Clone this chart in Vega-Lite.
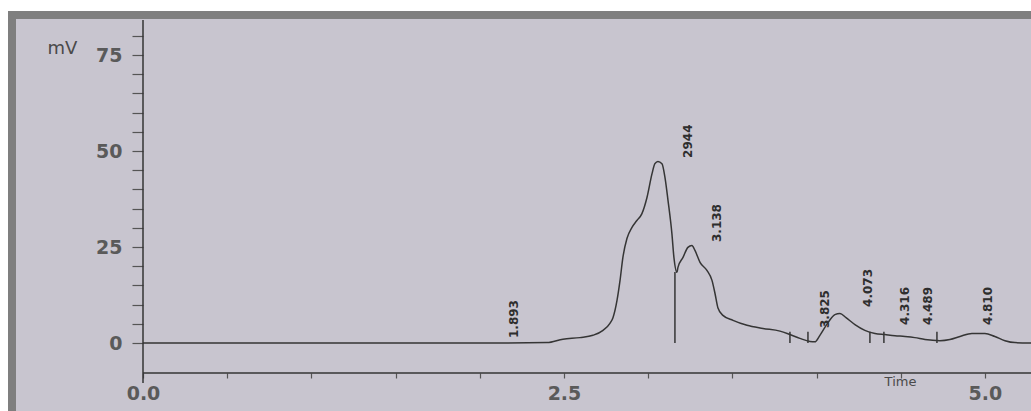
{
  "$schema": "https://vega.github.io/schema/vega-lite/v6.json",
  "width": 1029,
  "height": 401,
  "autosize": {"type": "none"},
  "padding": {"left": 12, "top": 15, "right": 0, "bottom": 0},
  "background": "#ffffff",
  "config": {
    "view": {"fill": "#c8c5cf", "stroke": "#7f7f7f", "strokeWidth": 8},
    "axis": {"labelOverlap": false}
  },
  "datasets": {
    "trace": [
      {"t": 0, "v": 0}, {"t": 1.5, "v": 0}, {"t": 2.1, "v": 0}, {"t": 2.4, "v": 0.1},
      {"t": 2.494, "v": 1.0}, {"t": 2.595, "v": 1.4}, {"t": 2.672, "v": 2.0}, {"t": 2.732, "v": 3.3},
      {"t": 2.773, "v": 5.1}, {"t": 2.791, "v": 6.6}, {"t": 2.815, "v": 11.1}, {"t": 2.833, "v": 16.3},
      {"t": 2.85, "v": 22.3}, {"t": 2.874, "v": 27.2}, {"t": 2.904, "v": 30.1}, {"t": 2.933, "v": 31.9},
      {"t": 2.963, "v": 33.7}, {"t": 2.993, "v": 37.9}, {"t": 3.023, "v": 44.1}, {"t": 3.04, "v": 46.7},
      {"t": 3.058, "v": 47.3}, {"t": 3.082, "v": 46.7}, {"t": 3.1, "v": 43.1}, {"t": 3.118, "v": 37.1},
      {"t": 3.141, "v": 28.5}, {"t": 3.153, "v": 22.3}, {"t": 3.171, "v": 18.4}, {"t": 3.177, "v": 19.7},
      {"t": 3.207, "v": 22.3}, {"t": 3.236, "v": 24.9}, {"t": 3.26, "v": 25.4}, {"t": 3.278, "v": 24.1},
      {"t": 3.308, "v": 21.0}, {"t": 3.349, "v": 18.9}, {"t": 3.379, "v": 16.3}, {"t": 3.397, "v": 12.9},
      {"t": 3.414, "v": 9.2}, {"t": 3.444, "v": 7.2}, {"t": 3.504, "v": 5.9}, {"t": 3.587, "v": 4.6},
      {"t": 3.682, "v": 3.8}, {"t": 3.783, "v": 3.1}, {"t": 3.842, "v": 2.2}, {"t": 3.901, "v": 1.2},
      {"t": 3.961, "v": 0.4}, {"t": 3.99, "v": 0.3}, {"t": 4.02, "v": 2.0}, {"t": 4.068, "v": 5.3},
      {"t": 4.109, "v": 7.4}, {"t": 4.139, "v": 7.7}, {"t": 4.175, "v": 6.6}, {"t": 4.228, "v": 4.8},
      {"t": 4.287, "v": 3.3}, {"t": 4.347, "v": 2.5}, {"t": 4.406, "v": 2.2}, {"t": 4.466, "v": 1.9},
      {"t": 4.525, "v": 1.7}, {"t": 4.584, "v": 1.4}, {"t": 4.644, "v": 0.9}, {"t": 4.733, "v": 0.6},
      {"t": 4.792, "v": 0.9}, {"t": 4.852, "v": 1.7}, {"t": 4.923, "v": 2.5}, {"t": 5.0, "v": 2.5},
      {"t": 5.059, "v": 1.7}, {"t": 5.119, "v": 0.6}, {"t": 5.178, "v": 0.1}, {"t": 5.333, "v": 0}
    ],
    "peaks": [
      {"label": "1.893", "t": 2.203, "v": 1.3},
      {"label": "2944", "t": 3.236, "v": 48.2},
      {"label": "3.138", "t": 3.409, "v": 26.3},
      {"label": "3.825", "t": 4.05, "v": 3.9},
      {"label": "4.073", "t": 4.305, "v": 9.4},
      {"label": "4.316", "t": 4.525, "v": 4.7},
      {"label": "4.489", "t": 4.662, "v": 4.7},
      {"label": "4.810", "t": 5.018, "v": 4.7}
    ],
    "rules": [
      {"t": 0, "v": -10.4, "t2": 0, "v2": 84.1},
      {"t": 0, "v": -7.81, "t2": 5.333, "v2": -7.81},
      {"t": 3.159, "v": 0, "t2": 3.159, "v2": 18.5},
      {"t": 3.842, "v": 0, "t2": 3.842, "v2": 2.9},
      {"t": 3.949, "v": 0, "t2": 3.949, "v2": 2.9},
      {"t": 4.317, "v": 0, "t2": 4.317, "v2": 2.9},
      {"t": 4.4, "v": 0, "t2": 4.4, "v2": 2.9},
      {"t": 4.715, "v": 0, "t2": 4.715, "v2": 2.9}
    ]
  },
  "layer": [
    {
      "data": {"name": "trace"},
      "mark": {"type": "line", "color": "#353535", "strokeWidth": 1.5, "interpolate": "monotone"},
      "encoding": {
        "x": {
          "field": "t", "type": "quantitative",
          "scale": {"domain": [-0.778, 5.333], "nice": false, "zero": false},
          "axis": {
            "title": "Time",
            "values": [0, 0.5, 1, 1.5, 2, 2.5, 3, 3.5, 4, 4.5, 5],
            "tickCount": 60,
            "labelExpr": "datum.value === 0 || datum.value === 2.5 || datum.value === 5 ? format(datum.value, '.1f') : ''",
            "offset": -43, "domain": false, "grid": false,
            "tickSize": 5, "tickColor": "#555555", "tickWidth": 1.2,
            "labelFont": "DejaVu Sans", "labelFontSize": 19, "labelFontWeight": "bold", "labelColor": "#5a5a5a",
            "labelPadding": 6, "labelOverlap": false, "labelFlush": false,
            "titleX": 888, "titleY": 8, "titleFont": "DejaVu Sans", "titleFontSize": 13, "titleFontWeight": "normal",
            "titleColor": "#4a4a4a", "titleBaseline": "middle", "titleAlign": "center"
          }
        },
        "y": {
          "field": "v", "type": "quantitative",
          "scale": {"domain": [-19.01, 85.42], "nice": false, "zero": false},
          "axis": {
            "title": "mV",
            "values": [0, 5, 10, 15, 20, 25, 30, 35, 40, 45, 50, 55, 60, 65, 70, 75, 80],
            "tickCount": 60,
            "labelExpr": "datum.value % 25 === 0 ? format(datum.value, 'd') : ''",
            "offset": -131, "domain": false, "grid": false,
            "tickSize": 11, "tickColor": "#555555", "tickWidth": 1.2,
            "labelFont": "DejaVu Sans", "labelFontSize": 19, "labelFontWeight": "bold", "labelColor": "#5a5a5a",
            "labelPadding": 10, "labelOverlap": false, "labelFlush": false,
            "titleAngle": 0, "titleX": -81, "titleY": 33, "titleFont": "DejaVu Sans", "titleFontSize": 18,
            "titleFontWeight": "normal", "titleColor": "#4a4a4a", "titleAlign": "center", "titleBaseline": "middle"
          }
        }
      }
    },
    {
      "data": {"name": "peaks"},
      "mark": {"type": "text", "angle": 270, "align": "left", "baseline": "middle", "font": "DejaVu Sans", "fontSize": 12, "fontWeight": "bold", "color": "#2e2e2e"},
      "encoding": {
        "x": {"field": "t", "type": "quantitative"},
        "y": {"field": "v", "type": "quantitative"},
        "text": {"field": "label", "type": "nominal"}
      }
    },
    {
      "data": {"name": "rules"},
      "mark": {"type": "rule", "color": "#353535", "strokeWidth": 1.5},
      "encoding": {
        "x": {"field": "t", "type": "quantitative"},
        "y": {"field": "v", "type": "quantitative"},
        "x2": {"field": "t2"},
        "y2": {"field": "v2"}
      }
    }
  ]
}
